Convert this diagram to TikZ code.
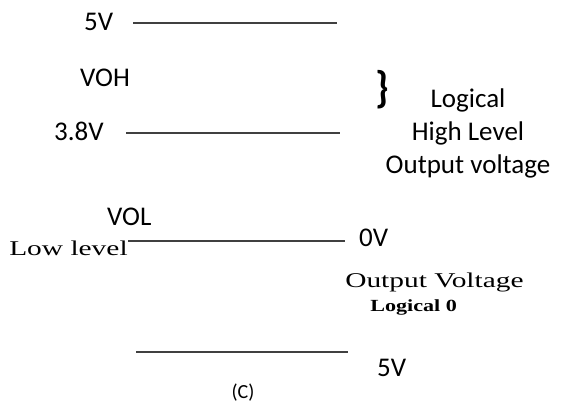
\documentclass[tikz,border=0pt]{standalone}
\usepackage{fontspec}
\setmainfont{Carlito}
\newfontfamily\oldserif{Liberation Serif}
\begin{document}
\begin{tikzpicture}[x=1pt,y=-1pt,
  level/.style={line width=1.6pt,draw=black!75},
  lab/.style={inner sep=0pt,font=\fontsize{27}{33}\selectfont},
  serif/.style={inner sep=0pt,xscale=1.4,font=\oldserif\fontsize{21}{24}\selectfont}]
\useasboundingbox (0,0) rectangle (567,409);
% levels
\coordinate (a1) at (133,23); \coordinate (a2) at (337,23);
\coordinate (b1) at (126,133); \coordinate (b2) at (340,133);
\coordinate (c1) at (128,241); \coordinate (c2) at (345,241);
\coordinate (d1) at (136,352); \coordinate (d2) at (348,352);
\draw[level] (a1) -- (a2);
\draw[level] (b1) -- (b2);
\draw[level] (c1) -- (c2);
\draw[level] (d1) -- (d2);
% labels
\node[lab,anchor=west] (t5) at (84,22) {5V};
\node[lab,anchor=west] (voh) at (80,78) {VOH};
\node[lab,anchor=west] (t38) at (54,131) {3.8V};
\node[lab,anchor=west] (vol) at (107,217) {VOL};
\node[lab,anchor=west] (t0) at (359,238) {0V};
\node[lab,anchor=west] (t5b) at (377,368) {5V};
\node[lab,align=center] (high) at (468,133) {Logical\\High Level\\Output voltage};
\node[inner sep=0pt,yscale=1.1,font=\bfseries\fontsize{40}{40}\selectfont] (br) at (382,90) {\}};
\node[serif,anchor=west] (low) at (9,248) {Low level};
\node[serif,anchor=west] (ov) at (345,282) {Output Voltage};
\node[inner sep=0pt,xscale=1.3,font=\oldserif\bfseries\fontsize{17}{19}\selectfont,anchor=west] (l0) at (370,307) {Logical 0};
\node[inner sep=0pt,font=\fontsize{20}{22}\selectfont] (cap) at (243,393) {(C)};
\end{tikzpicture}
\end{document}
